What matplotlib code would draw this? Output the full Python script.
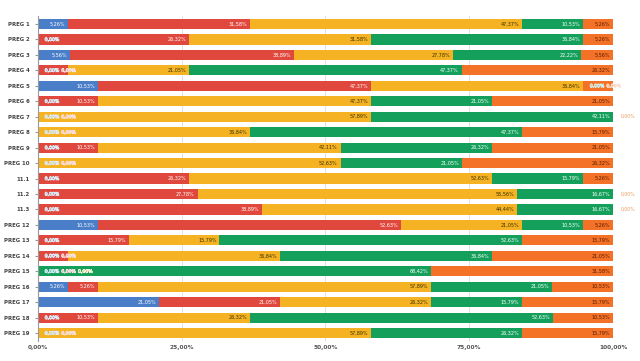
import numpy as np
import matplotlib
matplotlib.use("Agg")
import matplotlib.pyplot as plt
import matplotlib.patheffects as pe

rows = ["PREG 1", "PREG 2", "PREG 3", "PREG 4", "PREG 5", "PREG 6", "PREG 7",
        "PREG 8", "PREG 9", "PREG 10", "11.1", "11.2", "11.3", "PREG 12",
        "PREG 13", "PREG 14", "PREG 15", "PREG 16", "PREG 17", "PREG 18", "PREG 19"]

# segment widths as drawn (percent)
blue = [5.26, 0, 5.56, 0, 10.53, 0, 0, 0, 0, 0, 0, 0, 0, 10.53, 0, 0, 0, 5.26, 21.05, 0, 0]
red = [31.58, 26.32, 38.89, 5.26, 47.37, 10.53, 0, 0, 10.53, 0, 26.32, 27.78, 38.89,
       52.63, 15.79, 5.26, 0, 5.26, 21.05, 10.53, 0]
yellow = [47.37, 31.58, 27.78, 21.05, 36.84, 47.37, 57.89, 36.84, 42.11, 52.63, 52.63,
          55.56, 44.44, 21.05, 15.79, 36.84, 0, 57.89, 26.32, 26.32, 57.89]
green = [10.53, 36.84, 22.22, 47.37, 0, 21.05, 42.11, 47.37, 26.32, 21.05, 15.79, 16.67,
         16.67, 10.53, 52.63, 36.84, 68.42, 21.05, 15.79, 52.63, 26.32]
orange = [5.26, 5.26, 5.56, 26.32, 5.26, 21.05, 0, 15.79, 21.05, 26.32, 5.26, 0, 0,
          5.26, 15.79, 21.05, 31.58, 10.53, 15.79, 10.53, 15.79]
series = [blue, red, yellow, green, orange]

# values written in the data labels where they differ from the drawn width
shown_override = {("PREG 4", 1): 0.0, ("PREG 14", 1): 0.0, ("PREG 5", 4): 0.0}

colors = ["#4a7ec8", "#e0483d", "#f5b324", "#14a05b", "#f47228"]
text_colors = ["white", "white", "#3a3000", "white", "#5a1a00"]
zero_colors = ["#8cc4ee", "#ee9f9f", "#f3d67a", "#6fcdb6", "#f2a574"]

fig = plt.figure(figsize=(6.4, 3.61), dpi=100)
ax = fig.add_axes([0.059, 0.056, 0.899, 0.899])

y = np.arange(len(rows))
left = np.zeros(len(rows))
for k, vals in enumerate(series):
    vals = np.array(vals, dtype=float)
    ax.barh(y, vals, left=left, height=0.66, color=colors[k], zorder=2)
    left = left + vals

# data labels
for i, name in enumerate(rows):
    cum = 0.0
    chain = None
    for k, vals in enumerate(series):
        v = vals[i]
        shown = shown_override.get((name, k), v)
        if shown == 0:
            if chain is None or abs(chain[0] - cum) > 0.01:
                chain = [cum, cum + (1.2 if cum < 99.9 else 1.4)]
            if cum >= 99.9:
                ax.text(chain[1], i, "0,00%", ha="left", va="center", fontsize=3.3,
                        color="#e89a5c", zorder=4)
            else:
                ax.text(chain[1], i, "0,00%", ha="left", va="center", fontsize=3.3,
                        color=zero_colors[k], zorder=4,
                        path_effects=[pe.withStroke(linewidth=0.5, foreground="white")])
            chain[1] += 2.9
        else:
            ax.text(cum + v - 0.5, i, f"{shown:.2f}%".replace(".", ","), ha="right",
                    va="center", fontsize=3.5, color=text_colors[k], zorder=4)
        cum += v

ax.set_xlim(0, 100)
ax.set_ylim(len(rows) - 0.5, -0.5)
ax.set_yticks(y)
ax.set_yticklabels(rows, fontsize=3.9, fontweight="bold", color="#444444")
ax.set_xticks([0, 25, 50, 75, 100])
ax.set_xticklabels(["0,00%", "25,00%", "50,00%", "75,00%", "100,00%"], fontsize=4.2,
                   fontweight="bold", color="#555555")
ax.tick_params(axis="x", length=0, pad=3)
ax.tick_params(axis="y", length=2, color="#999999", pad=4)
ax.grid(axis="x", color="#dddddd", linewidth=0.6, zorder=0)
for s in ["top", "right", "bottom"]:
    ax.spines[s].set_visible(False)
ax.spines["left"].set_color("#999999")
ax.spines["left"].set_linewidth(0.8)
ax.spines["left"].set_zorder(3)

fig.savefig("out.png", dpi=100)
